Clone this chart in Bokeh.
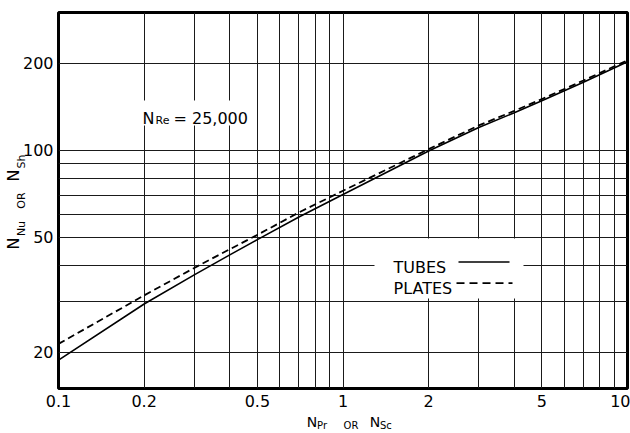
import math
from bokeh.plotting import figure
from bokeh.models import (Range1d, FixedTicker, Label, BoxAnnotation, Arrow,
                          LinearAxis, LinearScale)
from bokeh.embed import file_html
from bokeh.resources import INLINE

# ---- data ----
x_pr = [0.1, 0.2, 0.3, 0.4, 0.5, 0.7, 1, 2, 3, 4, 5, 7, 10]
nu_tubes = [18.8, 29.4, 37.1, 43.5, 49.1, 58.8, 70.4, 99.5, 120, 135, 148.5, 172, 202.5]
nu_plates = [21.4, 31.5, 39.2, 45.5, 51.0, 61.0, 72.5, 101, 122, 137, 150.5, 174.5, 205]

x_ticks = [0.1, 0.2, 0.5, 1, 2, 5, 10]
x_tick_labels = ["0.1", "0.2", "0.5", "1", "2", "5", "10"]
y_ticks = [20, 50, 100, 200]
y_tick_labels = ["20", "50", "100", "200"]
x_grid = [0.2, 0.3, 0.4, 0.5, 0.6, 0.7, 0.8, 0.9, 1, 2, 3, 4, 5, 6, 7, 8, 9]
y_grid = [20, 30, 40, 50, 60, 70, 80, 90, 100, 200]

series_names = ["TUBES", "PLATES"]
re_text = "= 25,000"
# axis titles split into main letters and subscripts
x_title_main = ["N", "N"]
x_title_sub = ["Pr", "OR", "Sc"]
y_title_main = ["N", "N"]
y_title_sub = ["Nu", "OR", "Sh"]

FONT = "DejaVu Sans"

p = figure(width=630, height=433, x_axis_type="log", y_axis_type="log",
           x_range=Range1d(0.1, 10), y_range=Range1d(15, 300),
           output_backend="svg", toolbar_location=None,
           min_border_left=57, min_border_right=3, min_border_top=12,
           min_border_bottom=45)
# pixel-like ranges used only to place the axis-title pieces
p.extra_x_ranges = {"px": Range1d(0, 570)}
p.extra_x_scales = {"px": LinearScale()}
p.extra_y_ranges = {"py": Range1d(0, 376)}
p.extra_y_scales = {"py": LinearScale()}

p.background_fill_color = "white"
p.border_fill_color = "white"
p.outline_line_color = "black"
p.outline_line_width = 3
p.outline_line_alpha = 1


def style_axis(ax, size):
    ax.axis_line_color = None
    ax.major_tick_line_color = None
    ax.minor_tick_line_color = None
    ax.major_tick_out = 0
    ax.major_tick_in = 0
    ax.major_label_text_font = FONT
    ax.major_label_text_font_size = f"{size}px"
    ax.major_label_text_color = "black"


for ax, ticks, labels in ((p.xaxis, x_ticks, x_tick_labels), (p.yaxis, y_ticks, y_tick_labels)):
    ax.ticker = FixedTicker(ticks=ticks, minor_ticks=[])
    ax.major_label_overrides = {t: l for t, l in zip(ticks, labels)}
    style_axis(ax, 16)
p.xaxis.major_label_standoff = 6
p.yaxis.major_label_standoff = 5

p.xgrid.ticker = FixedTicker(ticks=x_grid, minor_ticks=[])
p.ygrid.ticker = FixedTicker(ticks=y_grid, minor_ticks=[])
for g in (p.xgrid, p.ygrid):
    g.grid_line_color = "#1a1a1a"
    g.grid_line_width = 1
    g.grid_line_alpha = 1

# curves
p.line(x_pr, nu_tubes, line_color="black", line_width=1.6)
p.line(x_pr, nu_plates, line_color="black", line_width=1.8, line_dash="7 4")

# white patch behind the Reynolds-number note
p.add_layout(BoxAnnotation(left=78, right=195, bottom=263, top=288,
                           left_units="screen", right_units="screen",
                           bottom_units="screen", top_units="screen",
                           fill_color="white", fill_alpha=1, line_color=None))


def lab(text, x, y, size):
    p.add_layout(Label(x=x, y=y, x_units="screen", y_units="screen", text=text,
                       text_font=FONT, text_font_size=f"{size}px", text_color="black",
                       text_align="left", text_baseline="alphabetic"))


lab("N", 84, 270, 16)
lab("Re", 97, 268, 11)
lab(re_text, 115, 270, 16)

# legend (label first, line sample after, as in the reference)
p.add_layout(BoxAnnotation(left=316, right=465, bottom=90, top=150,
                           left_units="screen", right_units="screen",
                           bottom_units="screen", top_units="screen",
                           fill_color="white", fill_alpha=1, line_color=None))
lab(series_names[0], 335, 121, 16)
lab(series_names[1], 335, 100, 16)
p.add_layout(Arrow(start=None, end=None, x_start=400, y_start=126.5, x_end=451, y_end=126.5,
                   start_units="screen", end_units="screen",
                   line_color="black", line_width=1.5))
p.add_layout(Arrow(start=None, end=None, x_start=398, y_start=105.3, x_end=454, y_end=105.3,
                   start_units="screen", end_units="screen",
                   line_color="black", line_width=1.8, line_dash="8 5"))


# axis titles built from tick labels of extra, line-less axes
def title_axis(place, positions, texts, size, standoff, orientation=None):
    if place in ("below", "above"):
        ax = LinearAxis(x_range_name="px")
    else:
        ax = LinearAxis(y_range_name="py")
    ax.ticker = FixedTicker(ticks=positions, minor_ticks=[])
    ax.major_label_overrides = {t: s for t, s in zip(positions, texts)}
    style_axis(ax, size)
    ax.major_label_standoff = standoff
    if orientation is not None:
        ax.major_label_orientation = orientation
    p.add_layout(ax, place)


title_axis("below", [254, 317], x_title_main, 14, 4)
title_axis("below", [264, 293, 328], x_title_sub, 10, -13)
title_axis("left", [160, 188, 227], y_title_sub, 11, -8, "parallel")
title_axis("left", [145, 213], y_title_main, 16, -11, "parallel")

open("out.html", "w").write(file_html(p, INLINE))
